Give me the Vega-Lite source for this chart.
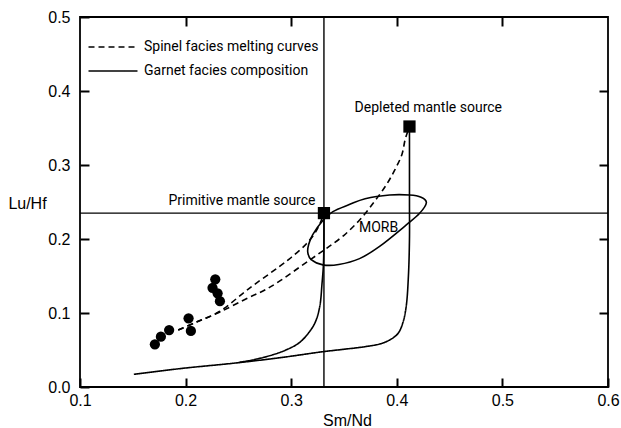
{
  "$schema": "https://vega.github.io/schema/vega-lite/v6.json",
  "width": 528,
  "height": 370,
  "autosize": {"type": "none"},
  "padding": {"left": 80, "top": 17, "right": 13, "bottom": 41},
  "background": "white",
  "config": {
    "view": {"stroke": "black", "strokeWidth": 1.8},
    "axis": {
      "domain": false, "grid": false, "ticks": true, "zindex": 1,
      "tickColor": "black", "tickOpacity": 1, "tickWidth": 2, "tickSize": 9, "offset": -9,
      "labelFont": "Liberation Sans", "labelFontSize": 16, "labelColor": "black",
      "titleFont": "Liberation Sans", "titleFontSize": 16, "titleFontWeight": "normal", "titleColor": "black",
      "labelOverlap": false, "labelFlush": false
    },
    "text": {"font": "Roboto", "fontSize": 14, "color": "black"}
  },
  "datasets": {
    "curves": [
      {"curve": "A", "type": "Spinel facies melting curves", "o": 1, "x": 0.193, "y": 0.077},
      {"curve": "A", "type": "Spinel facies melting curves", "o": 2, "x": 0.21, "y": 0.0875},
      {"curve": "A", "type": "Spinel facies melting curves", "o": 3, "x": 0.232, "y": 0.102},
      {"curve": "A", "type": "Spinel facies melting curves", "o": 4, "x": 0.26, "y": 0.133},
      {"curve": "A", "type": "Spinel facies melting curves", "o": 5, "x": 0.289, "y": 0.163},
      {"curve": "A", "type": "Spinel facies melting curves", "o": 6, "x": 0.3, "y": 0.175},
      {"curve": "A", "type": "Spinel facies melting curves", "o": 7, "x": 0.314, "y": 0.193},
      {"curve": "A", "type": "Spinel facies melting curves", "o": 8, "x": 0.322, "y": 0.207},
      {"curve": "A", "type": "Spinel facies melting curves", "o": 9, "x": 0.327, "y": 0.22},
      {"curve": "A", "type": "Spinel facies melting curves", "o": 10, "x": 0.331, "y": 0.235},
      {"curve": "B", "type": "Spinel facies melting curves", "o": 1, "x": 0.193, "y": 0.077},
      {"curve": "B", "type": "Spinel facies melting curves", "o": 2, "x": 0.21, "y": 0.0875},
      {"curve": "B", "type": "Spinel facies melting curves", "o": 3, "x": 0.232, "y": 0.101},
      {"curve": "B", "type": "Spinel facies melting curves", "o": 4, "x": 0.26, "y": 0.121},
      {"curve": "B", "type": "Spinel facies melting curves", "o": 5, "x": 0.275, "y": 0.131},
      {"curve": "B", "type": "Spinel facies melting curves", "o": 6, "x": 0.29, "y": 0.144},
      {"curve": "B", "type": "Spinel facies melting curves", "o": 7, "x": 0.308, "y": 0.162},
      {"curve": "B", "type": "Spinel facies melting curves", "o": 8, "x": 0.324, "y": 0.178},
      {"curve": "B", "type": "Spinel facies melting curves", "o": 9, "x": 0.336, "y": 0.19},
      {"curve": "B", "type": "Spinel facies melting curves", "o": 10, "x": 0.35, "y": 0.205},
      {"curve": "B", "type": "Spinel facies melting curves", "o": 11, "x": 0.365, "y": 0.226},
      {"curve": "B", "type": "Spinel facies melting curves", "o": 12, "x": 0.379, "y": 0.251},
      {"curve": "B", "type": "Spinel facies melting curves", "o": 13, "x": 0.39, "y": 0.273},
      {"curve": "B", "type": "Spinel facies melting curves", "o": 14, "x": 0.398, "y": 0.293},
      {"curve": "B", "type": "Spinel facies melting curves", "o": 15, "x": 0.405, "y": 0.315},
      {"curve": "B", "type": "Spinel facies melting curves", "o": 16, "x": 0.408, "y": 0.335},
      {"curve": "B", "type": "Spinel facies melting curves", "o": 17, "x": 0.412, "y": 0.352},
      {"curve": "G1", "type": "Garnet facies composition", "o": 1, "x": 0.412, "y": 0.352},
      {"curve": "G1", "type": "Garnet facies composition", "o": 2, "x": 0.412, "y": 0.25},
      {"curve": "G1", "type": "Garnet facies composition", "o": 3, "x": 0.412, "y": 0.2},
      {"curve": "G1", "type": "Garnet facies composition", "o": 4, "x": 0.411, "y": 0.15},
      {"curve": "G1", "type": "Garnet facies composition", "o": 5, "x": 0.409, "y": 0.11},
      {"curve": "G1", "type": "Garnet facies composition", "o": 6, "x": 0.406, "y": 0.088},
      {"curve": "G1", "type": "Garnet facies composition", "o": 7, "x": 0.4015, "y": 0.073},
      {"curve": "G1", "type": "Garnet facies composition", "o": 8, "x": 0.395, "y": 0.065},
      {"curve": "G1", "type": "Garnet facies composition", "o": 9, "x": 0.386, "y": 0.059},
      {"curve": "G1", "type": "Garnet facies composition", "o": 10, "x": 0.37, "y": 0.0545},
      {"curve": "G1", "type": "Garnet facies composition", "o": 11, "x": 0.35, "y": 0.051},
      {"curve": "G1", "type": "Garnet facies composition", "o": 12, "x": 0.33, "y": 0.0477},
      {"curve": "G1", "type": "Garnet facies composition", "o": 13, "x": 0.289, "y": 0.0395},
      {"curve": "G1", "type": "Garnet facies composition", "o": 14, "x": 0.2445, "y": 0.032},
      {"curve": "G1", "type": "Garnet facies composition", "o": 15, "x": 0.197, "y": 0.0252},
      {"curve": "G1", "type": "Garnet facies composition", "o": 16, "x": 0.151, "y": 0.0171},
      {"curve": "G2", "type": "Garnet facies composition", "o": 1, "x": 0.331, "y": 0.235},
      {"curve": "G2", "type": "Garnet facies composition", "o": 2, "x": 0.331, "y": 0.2},
      {"curve": "G2", "type": "Garnet facies composition", "o": 3, "x": 0.3305, "y": 0.165},
      {"curve": "G2", "type": "Garnet facies composition", "o": 4, "x": 0.3292, "y": 0.14},
      {"curve": "G2", "type": "Garnet facies composition", "o": 5, "x": 0.3272, "y": 0.11},
      {"curve": "G2", "type": "Garnet facies composition", "o": 6, "x": 0.3235, "y": 0.09},
      {"curve": "G2", "type": "Garnet facies composition", "o": 7, "x": 0.3185, "y": 0.077},
      {"curve": "G2", "type": "Garnet facies composition", "o": 8, "x": 0.3078, "y": 0.06},
      {"curve": "G2", "type": "Garnet facies composition", "o": 9, "x": 0.295, "y": 0.05},
      {"curve": "G2", "type": "Garnet facies composition", "o": 10, "x": 0.2825, "y": 0.0435},
      {"curve": "G2", "type": "Garnet facies composition", "o": 11, "x": 0.265, "y": 0.037},
      {"curve": "G2", "type": "Garnet facies composition", "o": 12, "x": 0.2509, "y": 0.0332}
    ],
    "morb": [
      {"o": 1, "x": 0.412, "y": 0.2595},
      {"o": 2, "x": 0.423, "y": 0.2565},
      {"o": 3, "x": 0.428, "y": 0.249},
      {"o": 4, "x": 0.4216, "y": 0.2347},
      {"o": 5, "x": 0.409, "y": 0.219},
      {"o": 6, "x": 0.3837, "y": 0.19},
      {"o": 7, "x": 0.3647, "y": 0.1735},
      {"o": 8, "x": 0.345, "y": 0.1655},
      {"o": 9, "x": 0.33, "y": 0.165},
      {"o": 10, "x": 0.3189, "y": 0.172},
      {"o": 11, "x": 0.3157, "y": 0.182},
      {"o": 12, "x": 0.3166, "y": 0.193},
      {"o": 13, "x": 0.3204, "y": 0.206},
      {"o": 14, "x": 0.33, "y": 0.225},
      {"o": 15, "x": 0.3395, "y": 0.237},
      {"o": 16, "x": 0.355, "y": 0.2465},
      {"o": 17, "x": 0.37, "y": 0.2545},
      {"o": 18, "x": 0.3932, "y": 0.2595}
    ],
    "samples": [
      {"x": 0.1709, "y": 0.0577},
      {"x": 0.1766, "y": 0.068},
      {"x": 0.1844, "y": 0.077},
      {"x": 0.2028, "y": 0.0928},
      {"x": 0.205, "y": 0.0757},
      {"x": 0.2281, "y": 0.1455},
      {"x": 0.2255, "y": 0.134},
      {"x": 0.2303, "y": 0.1266},
      {"x": 0.2325, "y": 0.116}
    ],
    "sources": [
      {"name": "Primitive mantle source", "x": 0.331, "y": 0.235},
      {"name": "Depleted mantle source", "x": 0.412, "y": 0.352}
    ],
    "labels": [
      {"text": "Primitive mantle source", "x": 0.323, "y": 0.246, "align": "right"},
      {"text": "Depleted mantle source", "x": 0.4298, "y": 0.3716, "align": "center"},
      {"text": "MORB", "x": 0.3827, "y": 0.2095, "align": "center"}
    ],
    "refs": [
      {"vx": 0.331, "hy": 0.235}
    ]
  },
  "resolve": {"axis": {"x": "independent", "y": "independent"}},
  "layer": [
    {
      "data": {"name": "refs"},
      "mark": {"type": "rule", "color": "black", "strokeWidth": 1.4},
      "encoding": {
        "x": {"field": "vx", "type": "quantitative", "scale": {"domain": [0.1, 0.6], "nice": false, "zero": false},
              "axis": {"orient": "top", "labels": false, "title": null, "values": [0.2, 0.3, 0.4, 0.5]}}
      }
    },
    {
      "data": {"name": "refs"},
      "mark": {"type": "rule", "color": "black", "strokeWidth": 1.4},
      "encoding": {
        "y": {"field": "hy", "type": "quantitative", "scale": {"domain": [0, 0.5], "nice": false, "zero": false},
              "axis": {"orient": "right", "labels": false, "title": null, "values": [0.1, 0.2, 0.3, 0.4]}}
      }
    },
    {
      "data": {"name": "curves"},
      "mark": {"type": "line", "color": "black", "strokeWidth": 1.6, "interpolate": "catmull-rom"},
      "encoding": {
        "x": {"field": "x", "type": "quantitative",
              "axis": {"orient": "bottom", "title": "Sm/Nd", "format": ".1f", "values": [0.1, 0.2, 0.3, 0.4, 0.5, 0.6],
                       "labelPadding": 5, "titleX": 267, "titleY": 47, "titleBaseline": "alphabetic"}},
        "y": {"field": "y", "type": "quantitative",
              "axis": {"orient": "left", "title": "Lu/Hf", "format": ".1f", "values": [0, 0.1, 0.2, 0.3, 0.4, 0.5],
                       "labelPadding": 10, "titleAngle": 0, "titleX": -62, "titleY": 186, "titleAlign": "center", "titleBaseline": "middle"}},
        "detail": {"field": "curve"},
        "order": {"field": "o", "type": "quantitative"},
        "strokeDash": {"field": "type", "type": "nominal",
                       "scale": {"domain": ["Spinel facies melting curves", "Garnet facies composition"], "range": [[6, 4], [1, 0]]},
                       "legend": {"title": null, "orient": "none", "legendX": 26, "legendY": 23, "symbolType": "M-4,0H4", "symbolSize": 150,
                                  "symbolStrokeColor": "black", "symbolStrokeWidth": 1.5, "symbolFillColor": "transparent", "labelFont": "Roboto",
                                  "labelFontSize": 14, "labelColor": "black", "labelOffset": 24, "rowPadding": 10, "labelLimit": 300}}
      }
    },
    {
      "data": {"name": "morb"},
      "mark": {"type": "line", "color": "black", "strokeWidth": 1.6, "interpolate": "cardinal-closed"},
      "encoding": {
        "x": {"field": "x", "type": "quantitative", "axis": null},
        "y": {"field": "y", "type": "quantitative", "axis": null},
        "order": {"field": "o", "type": "quantitative"}
      }
    },
    {
      "data": {"name": "samples"},
      "mark": {"type": "circle", "color": "black", "opacity": 1, "size": 105},
      "encoding": {
        "x": {"field": "x", "type": "quantitative", "axis": null},
        "y": {"field": "y", "type": "quantitative", "axis": null}
      }
    },
    {
      "data": {"name": "sources"},
      "mark": {"type": "square", "color": "black", "opacity": 1, "filled": true, "size": 150},
      "encoding": {
        "x": {"field": "x", "type": "quantitative", "axis": null},
        "y": {"field": "y", "type": "quantitative", "axis": null}
      }
    },
    {
      "data": {"name": "labels"},
      "transform": [{"filter": "datum.align === 'right'"}],
      "mark": {"type": "text", "baseline": "alphabetic", "align": "right"},
      "encoding": {
        "x": {"field": "x", "type": "quantitative", "axis": null},
        "y": {"field": "y", "type": "quantitative", "axis": null},
        "text": {"field": "text"}
      }
    },
    {
      "data": {"name": "labels"},
      "transform": [{"filter": "datum.align === 'center'"}],
      "mark": {"type": "text", "baseline": "alphabetic", "align": "center"},
      "encoding": {
        "x": {"field": "x", "type": "quantitative", "axis": null},
        "y": {"field": "y", "type": "quantitative", "axis": null},
        "text": {"field": "text"}
      }
    }
  ]
}
